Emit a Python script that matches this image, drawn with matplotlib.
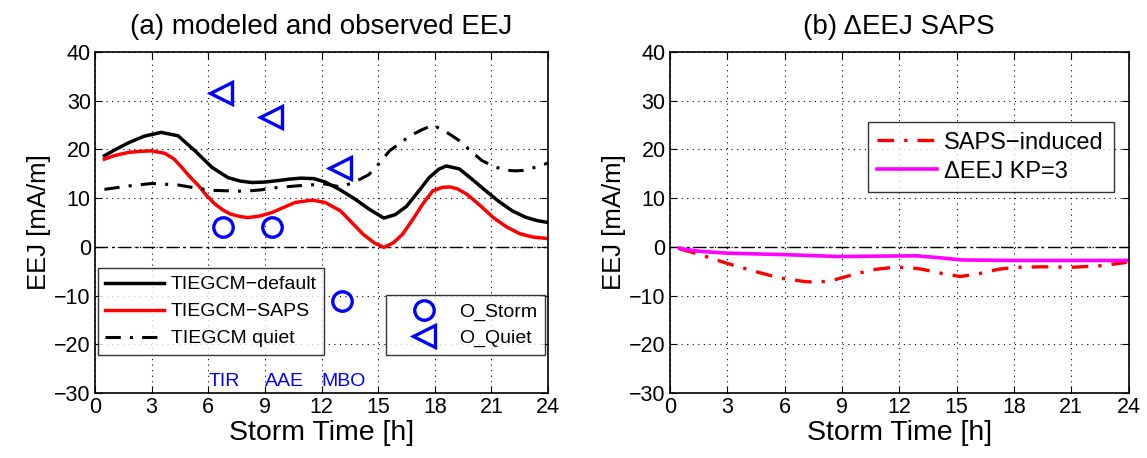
import matplotlib
matplotlib.use("Agg")
import matplotlib.pyplot as plt

plt.rcParams['font.family'] = ['Liberation Sans', 'DejaVu Sans']

# ---- data (a) ----
t_default = [0.5, 1.0, 1.8, 2.6, 3.5, 4.4, 5.3, 6.2, 7.05, 7.7, 8.3, 9.0, 9.7, 10.3, 10.9, 11.6, 12.2, 12.9, 13.7, 14.5, 15.3, 15.9, 16.5, 17.1, 17.7, 18.2, 18.6, 19.3, 20.0, 20.7, 21.4, 22.1, 22.8, 23.4, 24.0]
v_default = [18.7, 19.8, 21.4, 22.7, 23.5, 22.8, 19.7, 16.3, 14.2, 13.5, 13.2, 13.3, 13.6, 13.9, 14.1, 14.0, 13.3, 11.9, 10.0, 7.8, 5.9, 6.6, 8.3, 11.2, 14.2, 15.9, 16.6, 16.0, 13.8, 11.5, 9.3, 7.4, 6.1, 5.4, 5.0]

t_saps = [0.5, 1.0, 1.8, 2.4, 3.0, 3.7, 4.2, 4.6, 5.0, 5.5, 5.9, 6.35, 6.8, 7.2, 7.7, 8.1, 8.7, 9.35, 10.0, 10.6, 11.5, 12.2, 13.0, 13.6, 14.2, 14.8, 15.3, 15.8, 16.3, 16.9, 17.4, 17.9, 18.4, 18.8, 19.2, 19.7, 20.4, 21.1, 21.8, 22.5, 23.2, 24.0]
v_saps = [18.0, 18.7, 19.4, 19.6, 19.7, 19.2, 18.0, 16.3, 14.5, 12.5, 10.6, 8.8, 7.5, 6.7, 6.2, 6.0, 6.3, 7.0, 8.1, 9.1, 9.6, 9.1, 7.4, 5.0, 2.6, 0.8, -0.1, 0.8, 2.6, 6.0, 9.0, 11.5, 12.2, 12.3, 11.9, 10.8, 8.5, 6.0, 4.1, 2.7, 2.0, 1.7]

t_quiet = [0.5, 1.8, 3.0, 4.4, 5.3, 6.2, 7.0, 7.9, 8.8, 9.7, 11.0, 12.2, 13.0, 13.7, 14.5, 15.1, 15.6, 16.2, 16.7, 17.3, 17.9, 18.6, 19.3, 19.9, 20.5, 21.2, 21.8, 22.3, 22.7, 23.2, 24.0]
v_quiet = [11.8, 12.5, 13.0, 12.7, 12.1, 11.6, 11.5, 11.4, 11.7, 12.2, 12.6, 12.9, 12.3, 13.2, 14.8, 17.3, 19.7, 21.4, 22.8, 24.0, 25.0, 23.6, 21.8, 19.7, 17.7, 16.4, 15.7, 15.6, 15.7, 16.2, 17.2]

t_storm_obs = [6.8, 9.4, 13.1]
v_storm_obs = [4.0, 4.0, -11.2]
t_quiet_obs = [6.7, 9.3, 13.0]
v_quiet_obs = [31.6, 26.6, 16.2]
station_labels = ['TIR', 'AAE', 'MBO']
station_hours = [6.0, 9.0, 12.0]

# ---- data (b) ----
t_saps_ind = [0.5, 1.5, 3.0, 4.5, 5.75, 7.0, 7.7, 8.5, 9.5, 10.6, 11.5, 12.4, 13.2, 14.0, 15.2, 16.3, 17.2, 18.1, 19.5, 21.0, 22.5, 23.9]
v_saps_ind = [-0.4, -1.5, -3.4, -5.1, -6.4, -7.1, -7.3, -6.9, -5.8, -4.7, -4.3, -4.2, -4.6, -5.3, -6.1, -5.4, -4.6, -4.2, -4.1, -4.2, -3.9, -3.2]
t_kp3 = [0.5, 1.5, 3.0, 6.0, 8.9, 11.0, 12.9, 14.0, 15.3, 18.0, 21.0, 23.9]
v_kp3 = [-0.3, -0.9, -1.3, -1.6, -2.0, -1.9, -1.85, -2.2, -2.7, -2.8, -2.8, -2.8]

xticks = [0, 3, 6, 9, 12, 15, 18, 21, 24]
yticks = [-30, -20, -10, 0, 10, 20, 30, 40]

fig = plt.figure(figsize=(11.47, 4.58), dpi=100)
ax1 = fig.add_axes([0.0828, 0.142, 0.395, 0.7445])
ax2 = fig.add_axes([0.584, 0.142, 0.400, 0.7445])

def style(ax, title):
    ax.set_xlim(0, 24)
    ax.set_ylim(-30, 40)
    ax.set_xticks(xticks)
    ax.set_yticks(yticks)
    ax.grid(True, linestyle=(0, (1, 4)), color='black', linewidth=0.8)
    ax.tick_params(direction='in', top=True, right=True, labelsize=15.5, length=5, pad=3)
    for s in ax.spines.values():
        s.set_linewidth(1.2)
    ax.set_xlabel('Storm Time [h]', fontsize=20.5, labelpad=1)
    ax.set_ylabel('EEJ [mA/m]', fontsize=18.5, labelpad=2)
    ax.set_title(title, fontsize=20, pad=13)
    ax.axhline(0, color='black', linestyle=(0, (9, 3, 2, 3)), linewidth=1.0)

style(ax1, '(a) modeled and observed EEJ')
style(ax2, '(b) \u0394EEJ SAPS')

l1, = ax1.plot(t_default, v_default, color='black', linewidth=2.5, label='TIEGCM\u2212default')
l2, = ax1.plot(t_saps, v_saps, color='red', linewidth=2.5, label='TIEGCM\u2212SAPS')
l3, = ax1.plot(t_quiet, v_quiet, color='black', linewidth=2.2, linestyle=(0, (5, 3, 1, 3)), label='TIEGCM quiet')
m1, = ax1.plot(t_storm_obs, v_storm_obs, 'o', markersize=14, markerfacecolor='none',
               markeredgecolor='#0000ff', markeredgewidth=2.4, linestyle='none', label='O_Storm')
m2, = ax1.plot(t_quiet_obs, v_quiet_obs, '<', markersize=16, markerfacecolor='none',
               markeredgecolor='#0000ff', markeredgewidth=2.4, linestyle='none', label='O_Quiet')
for lab, h in zip(station_labels, station_hours):
    ax1.text(h, -29.4, lab, color='#0000ff', fontsize=14, ha='left', va='bottom')

leg1 = ax1.legend(handles=[l1, l2, l3], loc='lower left', bbox_to_anchor=(0.006, 0.111),
                  fontsize=14, frameon=True, fancybox=False, edgecolor='black',
                  handlelength=3.0, borderpad=0.4, borderaxespad=0.0,
                  labelspacing=0.48, handletextpad=0.35)
leg1.get_frame().set_linewidth(1.0)
ax1.add_artist(leg1)
leg2 = ax1.legend(handles=[m1, m2], loc='lower right', bbox_to_anchor=(0.993, 0.111),
                  fontsize=14, frameon=True, fancybox=False, edgecolor='black',
                  handlelength=3.1, borderpad=0.4, borderaxespad=0.0,
                  labelspacing=0.45, handletextpad=0.25)
leg2.get_frame().set_linewidth(1.0)

r1, = ax2.plot(t_saps_ind, v_saps_ind, color='red', linewidth=2.4, linestyle=(0, (5, 3, 1, 3)), label='SAPS\u2212induced')
r2, = ax2.plot(t_kp3, v_kp3, color='magenta', linewidth=2.6, label='\u0394EEJ KP=3')
leg3 = ax2.legend(handles=[r1, r2], loc='upper left', bbox_to_anchor=(0.431, 0.794),
                  fontsize=17, frameon=True, fancybox=False, edgecolor='black',
                  handlelength=2.55, borderpad=0.4, borderaxespad=0.0,
                  labelspacing=0.3, handletextpad=0.3)
leg3.get_frame().set_linewidth(1.0)

fig.savefig('out.png', dpi=100)
